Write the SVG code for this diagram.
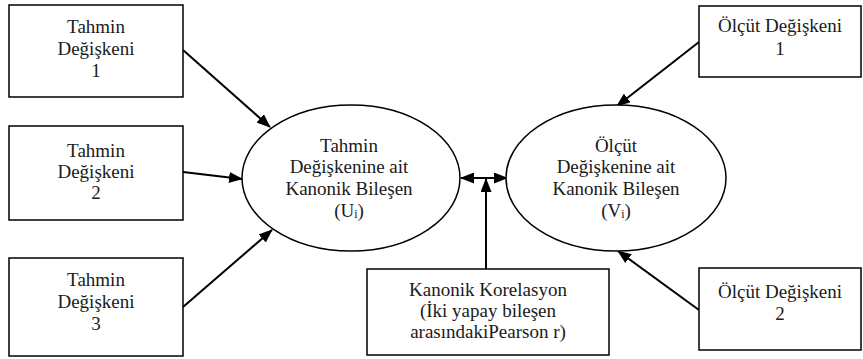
<svg xmlns="http://www.w3.org/2000/svg" width="863" height="359" viewBox="0 0 863 359">
<style>
  .box { fill: #ffffff; stroke: #000000; stroke-width: 1.5; }
  .ell { fill: #ffffff; stroke: #000000; stroke-width: 1.5; }
  .lbl { font-family: "Liberation Serif", "Times New Roman", serif; font-size: 19px; fill: #1a1a1a; text-anchor: middle; }
  .sub { font-size: 12px; }
  .conn { stroke: #000000; stroke-width: 2; fill: none; }
</style>
<defs>
  <marker id="arrow" markerUnits="userSpaceOnUse" viewBox="0 0 14 11" markerWidth="14" markerHeight="11" refX="13" refY="5.5" orient="auto-start-reverse">
    <path d="M0,0 L14,5.5 L0,11 Z" fill="#000000"/>
  </marker>
</defs>
<rect width="863" height="359" fill="#ffffff"/>

<g id="connectors">
  <line class="conn" x1="183" y1="50" x2="270" y2="127" marker-end="url(#arrow)"/>
  <line class="conn" x1="183" y1="172" x2="242" y2="179" marker-end="url(#arrow)"/>
  <line class="conn" x1="183" y1="307" x2="272" y2="230" marker-end="url(#arrow)"/>
  <line class="conn" x1="699" y1="42" x2="617" y2="106" marker-end="url(#arrow)"/>
  <line class="conn" x1="699" y1="310" x2="618" y2="251" marker-end="url(#arrow)"/>
  <line class="conn" x1="461" y1="178" x2="507" y2="178" marker-start="url(#arrow)" marker-end="url(#arrow)"/>
  <line class="conn" x1="486" y1="269" x2="486" y2="179" marker-end="url(#arrow)"/>
</g>

<g id="tahmin1">
  <rect class="box" x="9" y="5" width="174" height="92"/>
  <text class="lbl" x="96" y="33">Tahmin</text>
  <text class="lbl" x="96" y="55">Değişkeni</text>
  <text class="lbl" x="96" y="77">1</text>
</g>
<g id="tahmin2">
  <rect class="box" x="9" y="126" width="174" height="94"/>
  <text class="lbl" x="96" y="157">Tahmin</text>
  <text class="lbl" x="96" y="178">Değişkeni</text>
  <text class="lbl" x="96" y="199">2</text>
</g>
<g id="tahmin3">
  <rect class="box" x="9" y="258" width="174" height="98"/>
  <text class="lbl" x="96" y="286">Tahmin</text>
  <text class="lbl" x="96" y="308">Değişkeni</text>
  <text class="lbl" x="96" y="330">3</text>
</g>

<g id="tahminBilesen">
  <ellipse class="ell" cx="351" cy="178" rx="109" ry="73"/>
  <text class="lbl" x="349" y="152">Tahmin</text>
  <text class="lbl" x="349" y="173">Değişkenine ait</text>
  <text class="lbl" x="349" y="195">Kanonik Bileşen</text>
  <text class="lbl" x="349" y="217">(U<tspan class="sub" dy="1">i</tspan><tspan dy="-1">)</tspan></text>
</g>

<g id="olcutBilesen">
  <ellipse class="ell" cx="616" cy="178" rx="110" ry="73"/>
  <text class="lbl" x="616" y="152">Ölçüt</text>
  <text class="lbl" x="616" y="173">Değişkenine ait</text>
  <text class="lbl" x="616" y="195">Kanonik Bileşen</text>
  <text class="lbl" x="616" y="217">(V<tspan class="sub" dy="1">i</tspan><tspan dy="-1">)</tspan></text>
</g>

<g id="kanonikKorelasyon">
  <rect class="box" x="367" y="269" width="242" height="86"/>
  <text class="lbl" x="488" y="296">Kanonik Korelasyon</text>
  <text class="lbl" x="488" y="317">(İki yapay bileşen</text>
  <text class="lbl" x="488" y="338">arasındakiPearson r)</text>
</g>

<g id="olcut1">
  <rect class="box" x="699" y="6" width="162" height="71"/>
  <text class="lbl" x="780" y="32">Ölçüt Değişkeni</text>
  <text class="lbl" x="780" y="55">1</text>
</g>
<g id="olcut2">
  <rect class="box" x="699" y="268" width="162" height="82"/>
  <text class="lbl" x="780" y="298">Ölçüt Değişkeni</text>
  <text class="lbl" x="780" y="320">2</text>
</g>
</svg>
